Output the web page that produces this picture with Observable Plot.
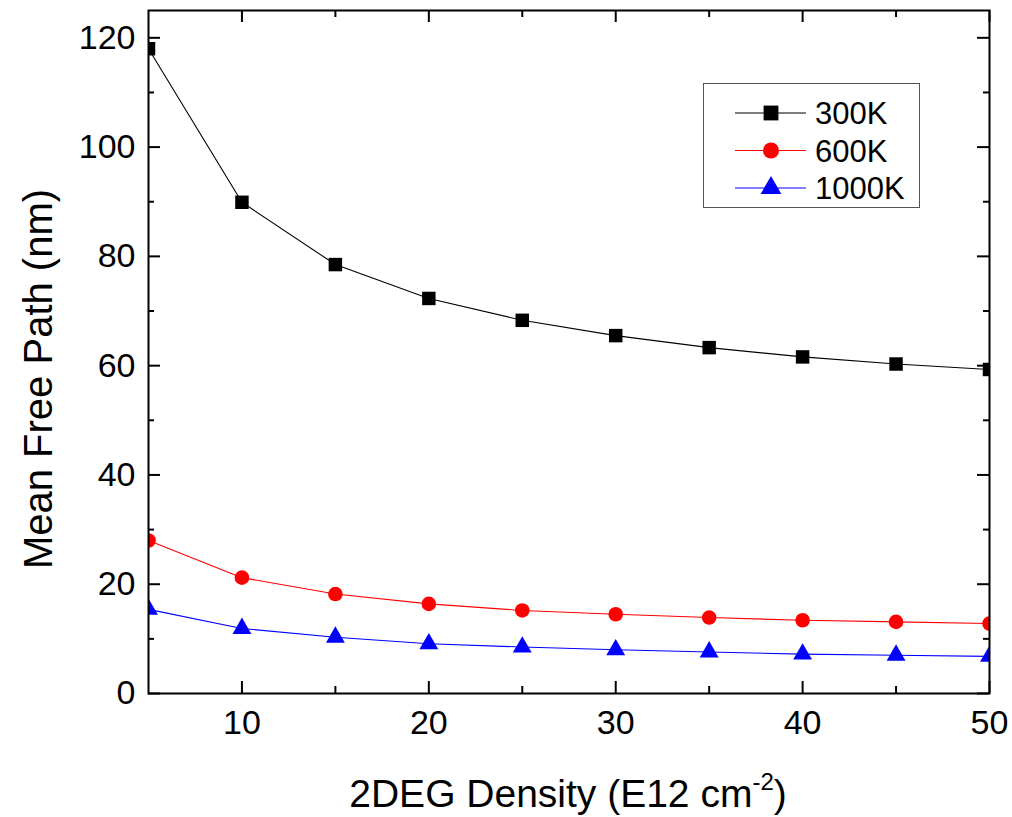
<!DOCTYPE html>
<html>
<head>
<meta charset="utf-8">
<script src="https://cdn.jsdelivr.net/npm/d3@7"></script>
<script src="https://cdn.jsdelivr.net/npm/@observablehq/plot@0.6"></script>
<style>
  html, body { margin: 0; padding: 0; background: #fff; }
  #wrap { position: relative; width: 1012px; height: 817px; }
  svg { font-family: "Liberation Sans", Arial, sans-serif; }
</style>
</head>
<body>
<div id="wrap"></div>
<script>
// ---- data ----
const density = [5, 10, 15, 20, 25, 30, 35, 40, 45, 50];
const mfp300K = [118.0, 89.9, 78.5, 72.3, 68.3, 65.5, 63.3, 61.6, 60.3, 59.3];
const mfp600K = [28.0, 21.2, 18.2, 16.4, 15.2, 14.5, 13.9, 13.4, 13.1, 12.8];
const mfp1000K = [15.4, 11.9, 10.3, 9.1, 8.5, 8.0, 7.6, 7.2, 7.0, 6.8];
const seriesNames = ["300K", "600K", "1000K"];
const seriesColors = ["#000000", "#ff0000", "#0000ff"];
const seriesSymbols = ["square", "circle", "triangle"];
const xMajorTicks = [10, 20, 30, 40, 50];
const xMinorTicks = [15, 25, 35, 45];
const yMajorTicks = [0, 20, 40, 60, 80, 100, 120];
const yMinorTicks = [10, 30, 50, 70, 90, 110];
const xLabelMain = "2DEG Density (E12 cm";
const xLabelSup = "-2";
const xLabelEnd = ")";
const yLabel = "Mean Free Path (nm)";

const seriesValues = [mfp300K, mfp600K, mfp1000K];
const rows = seriesNames.flatMap((name, s) =>
  density.map((x, i) => ({series: name, x, y: seriesValues[s][i]})));

const markerR = {square: 7.6, circle: 7.3, triangle: 7};

// layout
const W = 1012, H = 817, mL = 148, mR = 23, mT = 10, mB = 124;
const plotW = W - mL - mR, plotH = H - mT - mB;
const MAJ = 12, MIN = 7;

const marks = [];
seriesNames.forEach((name, s) => {
  const d = rows.filter(r => r.series === name);
  marks.push(Plot.line(d, {x: "x", y: "y", stroke: seriesColors[s], strokeWidth: 1.1, clip: true}));
});
seriesNames.forEach((name, s) => {
  const d = rows.filter(r => r.series === name);
  marks.push(Plot.dot(d, {x: "x", y: "y", fill: seriesColors[s], stroke: "none",
    symbol: seriesSymbols[s], r: markerR[seriesSymbols[s]], clip: true}));
});

// inward ticks on all four sides
const tk = {stroke: "#000", strokeWidth: 2};
marks.push(Plot.tickX(xMajorTicks, {x: d => d, insetTop: plotH - MAJ, ...tk}));
marks.push(Plot.tickX(xMinorTicks, {x: d => d, insetTop: plotH - MIN, ...tk}));
marks.push(Plot.tickX(xMajorTicks, {x: d => d, insetBottom: plotH - MAJ, ...tk}));
marks.push(Plot.tickX(xMinorTicks, {x: d => d, insetBottom: plotH - MIN, ...tk}));
marks.push(Plot.tickY(yMajorTicks, {y: d => d, insetRight: plotW - MAJ, ...tk}));
marks.push(Plot.tickY(yMinorTicks, {y: d => d, insetRight: plotW - (MIN - 1), ...tk}));
marks.push(Plot.tickY(yMajorTicks, {y: d => d, insetLeft: plotW - MAJ, ...tk}));
marks.push(Plot.tickY(yMinorTicks, {y: d => d, insetLeft: plotW - (MIN - 1), ...tk}));
// tick labels
marks.push(Plot.axisX(xMajorTicks, {anchor: "bottom", tickSize: 0, tickPadding: 16, fontSize: 34, label: null, fill: "#000"}));
marks.push(Plot.axisY(yMajorTicks, {anchor: "left", tickSize: 0, tickPadding: 13, fontSize: 34, label: null, fill: "#000"}));
marks.push(Plot.frame({stroke: "#000", strokeWidth: 2}));

const chart = Plot.plot({
  width: W,
  height: H,
  marginLeft: mL,
  marginRight: mR,
  marginTop: mT,
  marginBottom: mB,
  x: {domain: [5, 50]},
  y: {domain: [0, 125]},
  style: {fontFamily: '"Liberation Sans", Arial, sans-serif', color: "#000", background: "#fff"},
  marks
});
document.getElementById("wrap").appendChild(chart);

const svg = d3.select(chart);
// axis titles
const xl = svg.append("text")
  .attr("x", 568).attr("y", 807)
  .attr("text-anchor", "middle")
  .attr("font-size", 39).attr("fill", "#000");
xl.append("tspan").text(xLabelMain);
xl.append("tspan").attr("font-size", 24).attr("dy", -17).text(xLabelSup);
xl.append("tspan").attr("dy", 17).text(xLabelEnd);

svg.append("text")
  .attr("transform", "translate(52,379) rotate(-90)")
  .attr("text-anchor", "middle")
  .attr("font-size", 40).attr("fill", "#000")
  .text(yLabel);

// legend
const lg = svg.append("g").attr("transform", "translate(703,83)");
lg.append("rect").attr("x", 0.5).attr("y", 0.5).attr("width", 216).attr("height", 124)
  .attr("fill", "#fff").attr("stroke", "#555").attr("stroke-width", 1);
const legendSym = {square: d3.symbolSquare, circle: d3.symbolCircle, triangle: d3.symbolTriangle};
seriesNames.forEach((name, s) => {
  const cy = 30 + s * 37.5;
  lg.append("line").attr("x1", 32).attr("x2", 103).attr("y1", cy).attr("y2", cy)
    .attr("stroke", seriesColors[s]).attr("stroke-width", 1.1);
  const r = markerR[seriesSymbols[s]] * 1.1;
  lg.append("path")
    .attr("d", d3.symbol(legendSym[seriesSymbols[s]], Math.PI * r * r)())
    .attr("transform", `translate(68,${cy})`)
    .attr("fill", seriesColors[s]);
  lg.append("text").attr("x", 112).attr("y", cy).attr("dy", "0.36em")
    .attr("text-anchor", "start")
    .attr("font-size", 31).attr("fill", "#000").text(name);
});
</script>
</body>
</html>
